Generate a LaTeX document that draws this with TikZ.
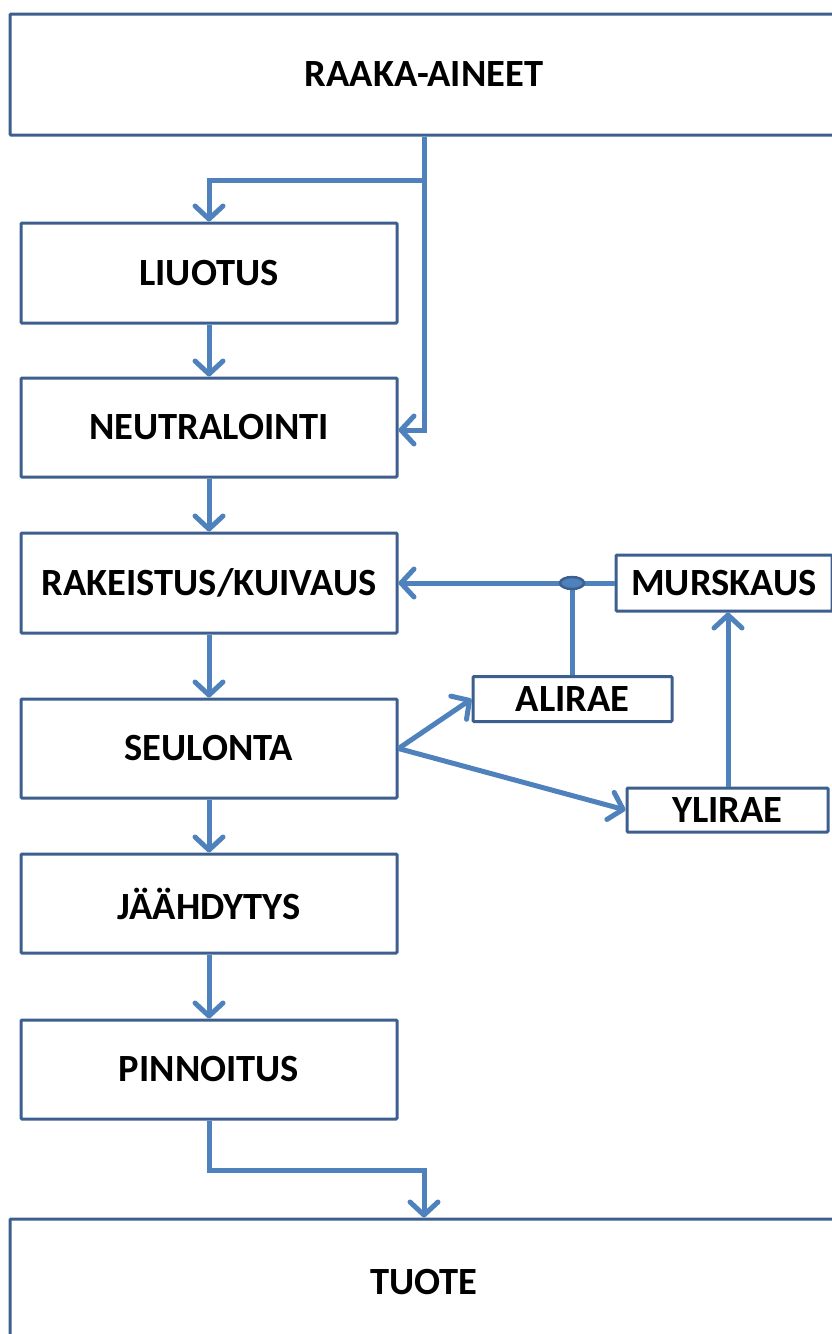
\documentclass[tikz,border=0pt]{standalone}
\usepackage{fontspec}
\setmainfont{Carlito}
\usetikzlibrary{arrows.meta,shapes.geometric}
\definecolor{boxline}{HTML}{3D5F8E}
\definecolor{flow}{HTML}{4F81BD}
\begin{document}
\begin{tikzpicture}[x=1pt,y=-1pt,
  box/.style={draw=boxline,line width=3pt,fill=white,inner sep=0pt,font=\bfseries\fontsize{38.5}{44}\selectfont,rounded corners=1pt},
  flowline/.style={draw=flow,line width=5pt,line join=miter},
  arr/.style={flowline,-{Straight Barb[length=13pt,width=28pt,line width=5pt,round]}}]
\useasboundingbox (0,0) rectangle (831,1334);
% boxes
\node[box,minimum width=828pt,minimum height=121pt] (raaka) at (424,74.5) {RAAKA-AINEET};
\node[box,minimum width=376pt,minimum height=100pt] (liuotus) at (209,273) {LIUOTUS};
\node[box,minimum width=376pt,minimum height=99pt] (neutr) at (209,427.5) {NEUTRALOINTI};
\node[box,minimum width=376pt,minimum height=100pt] (rake) at (209,583) {RAKEISTUS/KUIVAUS};
\node[box,minimum width=376pt,minimum height=99pt] (seul) at (209,748.5) {SEULONTA};
\node[box,minimum width=376pt,minimum height=99pt] (jaah) at (209,903.5) {JÄÄHDYTYS};
\node[box,minimum width=376pt,minimum height=99pt] (pinn) at (209,1069.5) {PINNOITUS};
\node[box,minimum width=828pt,minimum height=200pt] (tuote) at (424,1319) {};
\node[font=\bfseries\fontsize{38.5}{44}\selectfont] (tuotetext) at (424,1282) {TUOTE};
\node[box,minimum width=216pt,minimum height=56pt] (murs) at (724,583) {MURSKAUS};
\node[box,minimum width=199pt,minimum height=45pt] (alirae) at (572.5,699) {ALIRAE};
\node[box,minimum width=201pt,minimum height=44pt] (ylirae) at (727.5,810) {YLIRAE};
% junction
\coordinate (j) at (572,583);
\coordinate (t1) at (424,180);
\coordinate (t2) at (209,180);
\coordinate (t3) at (424,430);
\coordinate (b1) at (209,1170);
\coordinate (b2) at (424,1170);
% connectors
\draw[arr] (raaka.south -| t1) -- (t1) -- (t2) -- (liuotus.north);
\draw[arr] (t1) -- (t3) -- (neutr.east |- t3);
\draw[arr] (liuotus) -- (neutr);
\draw[arr] (neutr) -- (rake);
\draw[arr] (rake) -- (seul);
\draw[arr] (seul) -- (jaah);
\draw[arr] (jaah) -- (pinn);
\draw[arr] (pinn.south) -- (b1) -- (b2) -- (tuote.north);
\draw[arr] (murs.west) -- (rake.east);
\draw[flowline] (alirae.north -| j) -- (j);
\draw[arr] (seul.east) -- (alirae.west);
\draw[arr] (seul.east) -- (ylirae.west);
\draw[arr] (ylirae.north -| 728,0) -- (murs.south -| 728,0);
\node[draw=boxline,fill=flow,line width=2.5pt,ellipse,minimum width=24pt,minimum height=12pt,inner sep=0pt] (dot) at (j) {};
\end{tikzpicture}
\end{document}
